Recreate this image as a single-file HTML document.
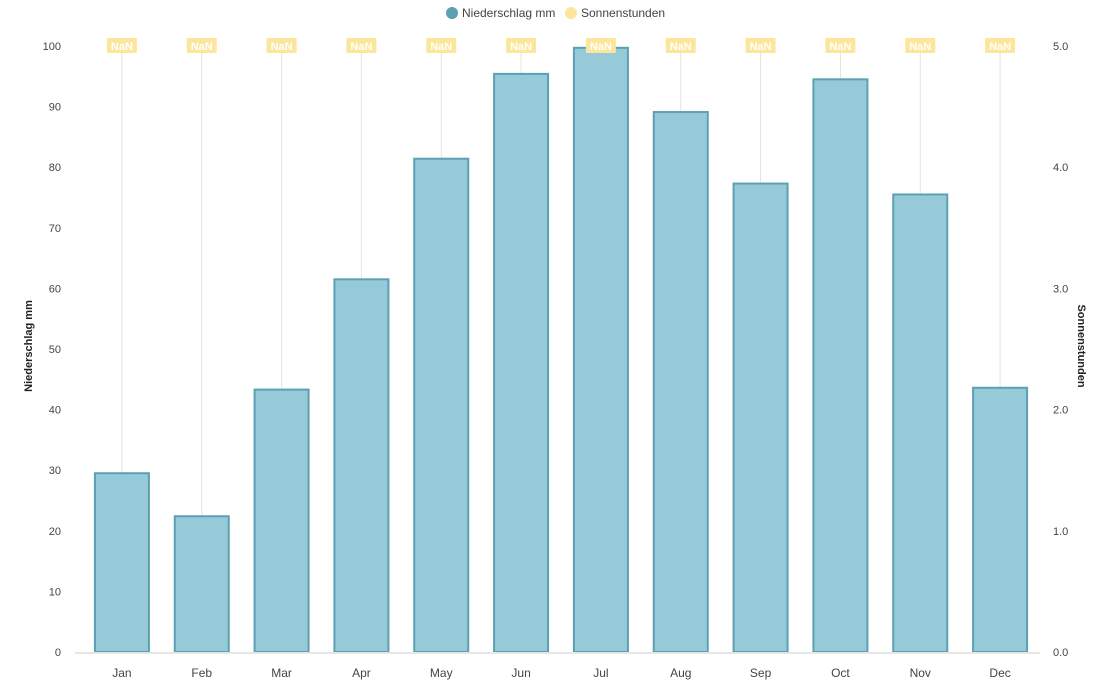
<!DOCTYPE html>
<html><head><meta charset="utf-8"><style>
body{margin:0;background:#fff;font-family:"Liberation Sans",Arial,sans-serif}
svg text{font-family:"Liberation Sans",Arial,sans-serif}
</style></head><body>
<svg id="chart" width="1110" height="689" xmlns="http://www.w3.org/2000/svg">
<g>
<g><circle cx="452" cy="13" r="6" fill="#5ba0b3"/><text x="462" y="17" font-size="12" fill="#444">Niederschlag mm</text></g>
<g><circle cx="571" cy="13" r="6" fill="#fde69c"/><text x="581" y="17" font-size="12" fill="#444">Sonnenstunden</text></g>
</g>
<text transform="translate(32,346) rotate(-90)" text-anchor="middle" font-size="11" font-weight="bold" fill="#222">Niederschlag mm</text>
<text transform="translate(1078,346) rotate(90)" text-anchor="middle" font-size="11" font-weight="bold" fill="#222">Sonnenstunden</text>
<g id="grid"></g><g id="bars"></g><g id="labels"></g><g id="axes"></g>
</svg>
<script>
const categories=["Jan","Feb","Mar","Apr","May","Jun","Jul","Aug","Sep","Oct","Nov","Dec"];
const precipitation=[29.5,22.4,43.3,61.5,81.4,95.4,99.7,89.1,77.3,94.5,75.5,43.6];
const leftTicks=[0,10,20,30,40,50,60,70,80,90,100];
const rightTicks=[0,1,2,3,4,5];
const NS="http://www.w3.org/2000/svg";
const x0=82,x1=1040,y0=652,y1=46;
const band=(x1-x0)/categories.length;
const xc=i=>x0+band*(i+0.5);
const yL=v=>y0-(v/100)*(y0-y1);
const yR=v=>y0-(v/5)*(y0-y1);
function mk(t,a,p){const e=document.createElementNS(NS,t);for(const k in a)e.setAttribute(k,a[k]);p.appendChild(e);return e;}
const grid=document.getElementById('grid'),bars=document.getElementById('bars'),labels=document.getElementById('labels'),axes=document.getElementById('axes');
categories.forEach((c,i)=>{
 const g=mk('line',{x1:xc(i),x2:xc(i),y1:y1,y2:y0,stroke:'#e3e3e3','stroke-width':1},grid);
 
 
 const bw=54,top=yL(precipitation[i]);
 const b=mk('rect',{x:xc(i)-bw/2,y:top,width:bw,height:y0-top,fill:'#97cad9',stroke:'#5ba0b3','stroke-width':2},bars);
 
 
 const lb=mk('rect',{x:xc(i)-15,y:38,width:30,height:15,fill:'#fde69c',rx:1},labels);
 
 
 const lt=mk('text',{x:xc(i),y:50,'text-anchor':'middle','font-size':11,'font-weight':'bold',fill:'#fff'},labels);
 lt.textContent='NaN';
 
 
 const xt=mk('text',{x:xc(i),y:677,'text-anchor':'middle','font-size':12,fill:'#444'},axes);
 xt.textContent=c;
 
 
});
const base=mk('line',{x1:75,x2:1040,y1:y0+1,y2:y0+1,stroke:'#e6e6e6','stroke-width':2},axes);


leftTicks.forEach(v=>{
 const t=mk('text',{x:61,y:yL(v)+4,'text-anchor':'end','font-size':11,fill:'#444'},axes);
 t.textContent=v;
 
 
});
rightTicks.forEach(v=>{
 const t=mk('text',{x:1053,y:yR(v)+4,'text-anchor':'start','font-size':11,fill:'#444'},axes);
 t.textContent=v.toFixed(1);
 
 
});
</script>
</body></html>
